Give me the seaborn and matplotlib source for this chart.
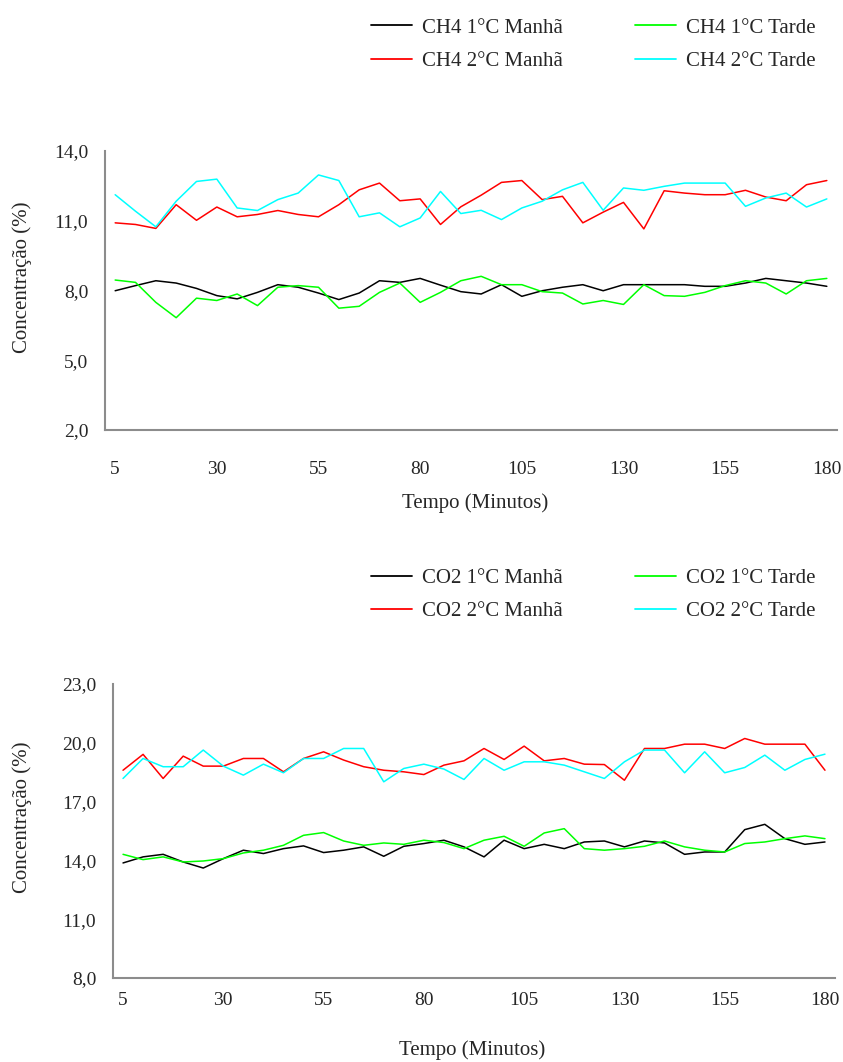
import matplotlib
matplotlib.use("Agg")
import matplotlib.pyplot as plt
import seaborn as sns
import pandas as pd
from matplotlib.ticker import FixedLocator, FuncFormatter

minutes = [5, 10, 15, 20, 25, 30, 35, 40, 45, 50, 55, 60, 65, 70, 75, 80, 85, 90,
           95, 100, 105, 110, 115, 120, 125, 130, 135, 140, 145, 150, 155, 160, 165, 170, 175, 180]
xtick_labels = [5, 30, 55, 80, 105, 130, 155, 180]

ch4_1_manha = [7.99, 8.21, 8.42, 8.32, 8.09, 7.78, 7.64, 7.92, 8.25, 8.14, 7.89, 7.61, 7.89, 8.42, 8.35, 8.52, 8.23, 7.95,
               7.85, 8.25, 7.75, 7.99, 8.14, 8.25, 7.99, 8.25, 8.25, 8.25, 8.25, 8.18, 8.18, 8.32, 8.52, 8.42, 8.32, 8.18]
ch4_1_tarde = [8.45, 8.35, 7.49, 6.83, 7.67, 7.57, 7.85, 7.35, 8.14, 8.21, 8.14, 7.24, 7.32, 7.92, 8.32, 7.49, 7.92, 8.42,
               8.61, 8.25, 8.25, 7.95, 7.89, 7.42, 7.57, 7.40, 8.25, 7.78, 7.75, 7.92, 8.21, 8.42, 8.32, 7.85, 8.42, 8.52]
ch4_2_manha = [10.91, 10.84, 10.67, 11.69, 11.02, 11.59, 11.17, 11.27, 11.44, 11.27, 11.17, 11.69, 12.33, 12.62, 11.86, 11.94, 10.84, 11.60,
               12.10, 12.65, 12.73, 11.91, 12.05, 10.91, 11.37, 11.79, 10.65, 12.29, 12.19, 12.12, 12.12, 12.31, 12.02, 11.86, 12.55, 12.73]
ch4_2_tarde = [12.12, 11.41, 10.74, 11.84, 12.69, 12.79, 11.55, 11.44, 11.91, 12.19, 12.97, 12.73, 11.17, 11.34, 10.74, 11.12, 12.26, 11.31,
               11.45, 11.05, 11.55, 11.84, 12.33, 12.65, 11.45, 12.41, 12.31, 12.48, 12.62, 12.62, 12.62, 11.62, 11.98, 12.19, 11.59, 11.94]

co2_1_manha = [13.87, 14.18, 14.31, 13.92, 13.61, 14.09, 14.52, 14.35, 14.60, 14.74, 14.40, 14.52, 14.69, 14.21, 14.72, 14.86, 15.03, 14.69,
               14.18, 15.03, 14.60, 14.82, 14.60, 14.94, 14.99, 14.69, 14.99, 14.89, 14.31, 14.43, 14.43, 15.57, 15.84, 15.11, 14.82, 14.94]
co2_1_tarde = [14.31, 14.04, 14.18, 13.92, 13.97, 14.09, 14.38, 14.52, 14.77, 15.28, 15.42, 14.99, 14.77, 14.89, 14.82, 15.03, 14.91, 14.60,
               15.03, 15.23, 14.72, 15.40, 15.62, 14.60, 14.52, 14.60, 14.72, 14.99, 14.69, 14.52, 14.43, 14.86, 14.94, 15.11, 15.25, 15.11]
co2_2_manha = [18.60, 19.41, 18.18, 19.32, 18.81, 18.81, 19.20, 19.20, 18.52, 19.20, 19.54, 19.12, 18.78, 18.60, 18.52, 18.38, 18.86, 19.08,
               19.71, 19.15, 19.83, 19.08, 19.20, 18.91, 18.89, 18.09, 19.71, 19.71, 19.93, 19.93, 19.71, 20.22, 19.93, 19.93, 19.93, 18.60]
co2_2_tarde = [18.18, 19.20, 18.78, 18.78, 19.63, 18.81, 18.35, 18.91, 18.47, 19.20, 19.20, 19.71, 19.71, 18.01, 18.69, 18.91, 18.66, 18.13,
               19.20, 18.60, 19.03, 19.03, 18.86, 18.52, 18.18, 19.03, 19.63, 19.63, 18.47, 19.54, 18.47, 18.74, 19.37, 18.60, 19.15, 19.42]

ch4_names = ["CH4 1°C Manhã", "CH4 2°C Manhã", "CH4 1°C Tarde", "CH4 2°C Tarde"]
co2_names = ["CO2 1°C Manhã", "CO2 2°C Manhã", "CO2 1°C Tarde", "CO2 2°C Tarde"]
colors = ["#000000", "#FF0000", "#00FF00", "#00FFFF"]
ch4_yticks = [2, 5, 8, 11, 14]
co2_yticks = [8, 11, 14, 17, 20, 23]

sns.set_style("white")
plt.rcParams["font.family"] = ["Liberation Serif", "DejaVu Serif"]

def long_df(names, series):
    frames = []
    for n, s in zip(names, series):
        frames.append(pd.DataFrame({"Tempo": minutes, "Conc": s, "Serie": n}))
    return pd.concat(frames, ignore_index=True)

df_ch4 = long_df(ch4_names, [ch4_1_manha, ch4_2_manha, ch4_1_tarde, ch4_2_tarde])
df_co2 = long_df(co2_names, [co2_1_manha, co2_2_manha, co2_1_tarde, co2_2_tarde])

fig = plt.figure(figsize=(8.43, 10.62), dpi=100)
W, H = 843, 1062
def ax_rect(l, r, t, b):
    return [l / W, 1 - b / H, (r - l) / W, (b - t) / H]

ax1 = fig.add_axes(ax_rect(105, 837, 151, 430))
ax2 = fig.add_axes(ax_rect(113, 835, 684, 978))

gray = "#8c8c8c"
fs_tick = 14
fs_text = 15

def style(ax, df, names, yticks, legend_y, xpad):
    sns.lineplot(data=df, x="Tempo", y="Conc", hue="Serie", hue_order=names,
                 palette=dict(zip(names, colors)), ax=ax, linewidth=1.1, legend=False)
    ax.set_xlim(2.5, 182.5)
    ax.set_ylim(yticks[0], yticks[-1])
    ax.set_yticks(yticks)
    ax.yaxis.set_major_formatter(FuncFormatter(lambda v, p: f"{v:.1f}".replace(".", ",")))
    ax.set_xticks(xtick_labels)
    ax.set_xticklabels([str(v) for v in xtick_labels])
    ax.xaxis.set_minor_locator(FixedLocator([2.5 + 25 * i for i in range(1, 8)]))
    ax.tick_params(axis="x", which="major", length=0, pad=xpad, labelsize=fs_tick)
    ax.tick_params(axis="x", which="minor", length=6, width=1.5, color=gray, direction="out")
    ax.tick_params(axis="y", which="major", length=6, width=1.5, color=gray, direction="out", pad=6, labelsize=fs_tick)
    for s in ["top", "right"]:
        ax.spines[s].set_visible(False)
    for s in ["left", "bottom"]:
        ax.spines[s].set_color(gray)
        ax.spines[s].set_linewidth(1.5)
    ax.set_xlabel("")
    ax.set_ylabel("")
    handles = [plt.Line2D([], [], color=c, linewidth=1.3) for c in colors]
    fig.legend(handles, names, loc="center left", bbox_to_anchor=(371 / W, 1 - legend_y / H),
               ncol=2, frameon=False, fontsize=fs_text, handlelength=1.95, handletextpad=0.48,
               columnspacing=3.5, labelspacing=0.65, borderpad=0, borderaxespad=0)

style(ax1, df_ch4, ch4_names, ch4_yticks, 44.5, 22)
style(ax2, df_co2, co2_names, co2_yticks, 595, 10)

fig.text(22 / W, 1 - 277 / H, "Concentração (%)", rotation=90, ha="center", va="center", fontsize=fs_text)
fig.text(22 / W, 1 - 817 / H, "Concentração (%)", rotation=90, ha="center", va="center", fontsize=fs_text)
fig.text(475 / W, 1 - 503 / H, "Tempo (Minutos)", ha="center", va="center", fontsize=fs_text)
fig.text(472 / W, 1 - 1050 / H, "Tempo (Minutos)", ha="center", va="center", fontsize=fs_text)

fig.savefig("out.png", dpi=100)
